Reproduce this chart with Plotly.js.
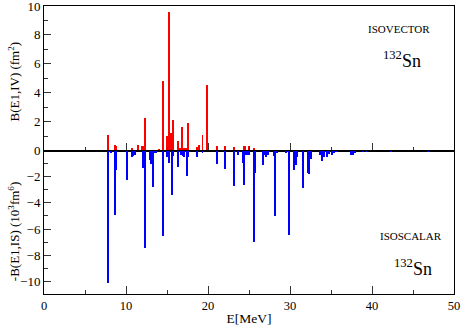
<!DOCTYPE html>
<html>
<head>
<meta charset="utf-8">
<script src="https://cdn.plot.ly/plotly-3.0.1.min.js"></script>
<style>html,body{margin:0;padding:0;background:#fff;}#chart{width:463px;height:326px;}</style>
</head>
<body>
<div id="chart"></div>
<script>
// Isovector strength B(E1,IV) (fm^2)
var ivEnergy = [7.81, 8.66, 8.82, 10.75, 11.5, 11.98, 12.15, 12.35, 14.0, 14.52, 14.97, 15.23, 15.47, 15.72, 16.37, 16.58, 16.83, 17.06, 17.3, 17.58, 18.6, 18.88, 19.33, 19.85, 21.08, 22.04, 23.18, 24.35, 24.55, 25.0, 25.6, 36.8, 37.3, 41.5];
var ivValue  = [1.05, 0.41, 0.3, 0.17, 0.4, 0.3, 0.3, 2.27, 0.1, 4.83, 0.99, 9.56, 1.24, 2.09, 0.64, 0.2, 1.66, 0.2, 0.2, 1.9, 0.23, 0.41, 1.05, 4.57, 0.34, 0.3, 0.25, 0.3, 0.3, 0.3, 0.16, 0.05, 0.06, 0.04];

// Isoscalar strength -B(E1,IS) (10^3 fm^6)
var isEnergy = [7.83, 8.17, 8.66, 8.8, 10.16, 10.73, 10.9, 11.07, 12.1, 12.35, 12.92, 13.05, 13.32, 13.5, 13.7, 14.52, 14.97, 15.23, 15.64, 15.78, 16.37, 16.75, 16.9, 17.06, 17.38, 17.55, 18.6, 19.33, 21.08, 22.02, 23.18, 23.6, 24.23, 24.42, 24.62, 24.85, 25.05, 25.57, 25.7, 26.7, 26.88, 27.1, 27.3, 28.04, 28.2, 28.38, 29.55, 29.88, 30.44, 30.72, 30.9, 31.57, 32.18, 32.36, 32.55, 33.6, 33.93, 34.1, 34.53, 34.72, 35.14, 35.4, 35.7, 37.45, 37.7, 37.9, 38.87, 39.3, 39.7, 41.9, 42.3, 44.1, 46.6, 46.8];
var isValue  = [-10.15, -0.15, -4.96, -1.45, -2.27, -0.49, -0.42, -0.3, -1.33, -7.43, -0.7, -1.0, -2.78, -0.2, -0.15, -6.54, -0.49, -0.92, -3.41, -0.4, -1.25, -0.3, -0.4, -0.5, -1.96, -0.5, -0.5, -0.2, -1.05, -1.43, -2.72, -0.3, -0.95, -2.62, -0.3, -0.35, -0.3, -6.97, -1.72, -1.12, -0.3, -0.5, -0.3, -0.4, -5.03, -0.2, -0.2, -6.47, -1.5, -1.08, -0.5, -2.83, -1.71, -1.8, -0.6, -0.3, -0.8, -0.5, -0.45, -0.25, -0.3, -0.2, -0.1, -0.3, -0.3, -0.15, -0.1, -0.1, -0.06, -0.06, -0.1, -0.05, -0.05, -0.08];

var xTicks = [0, 10, 20, 30, 40, 50];
var yTopTicks = [0, 2, 4, 6, 8, 10];
var yBottomTicks = [-10, -8, -6, -4, -2];
var yBottomMinor = [-9, -7, -5, -3, -1];

var serif = '"Liberation Serif", "Times New Roman", serif';
var yTickFont = {family: serif, size: 13, color: '#000'};
var xTickFont = {family: serif, size: 12.5, color: '#000'};

var traces = [
  {type: 'bar', x: ivEnergy, y: ivValue, width: 0.24, marker: {color: '#ff0000', line: {width: 0}}, xaxis: 'x', yaxis: 'y', hoverinfo: 'x+y'},
  {type: 'bar', x: isEnergy, y: isValue, width: 0.24, marker: {color: '#0000ff', line: {width: 0}}, xaxis: 'x2', yaxis: 'y2', hoverinfo: 'x+y'}
];

var axisCommon = {
  showline: true, mirror: true, linecolor: '#000', linewidth: 1,
  ticks: 'inside', tickcolor: '#333', tickwidth: 1,
  showgrid: false, zeroline: false,
  ticklabeloverflow: 'allow', automargin: false
};

var split = 0.4977;

var layout = {
  width: 463, height: 326,
  margin: {l: 44, r: 9, t: 6, b: 32},
  paper_bgcolor: '#fff', plot_bgcolor: '#fff',
  showlegend: false,
  bargap: 0,
  xaxis: Object.assign({}, axisCommon, {
    domain: [0, 1], range: [0, 50], anchor: 'y', tickvals: xTicks, ticklen: 8,
    showticklabels: false, tickfont: xTickFont,
    minor: {dtick: 5, tick0: 0, ticklen: 4, ticks: 'inside', tickcolor: '#333', showgrid: false}
  }),
  yaxis: Object.assign({}, axisCommon, {
    domain: [split, 1], range: [0, 10], anchor: 'x', tickvals: yTopTicks, ticklen: 7, tickfont: yTickFont,
    minor: {dtick: 1, tick0: 0, ticklen: 4, ticks: 'inside', tickcolor: '#333', showgrid: false}
  }),
  xaxis2: Object.assign({}, axisCommon, {
    domain: [0, 1], range: [0, 50], anchor: 'y2', tickvals: xTicks, ticklen: 8, tickfont: xTickFont,
    minor: {dtick: 5, tick0: 0, ticklen: 4, ticks: 'inside', tickcolor: '#333', showgrid: false},
    title: {text: 'E[MeV]', font: {family: serif, size: 13.5, color: '#000'}, standoff: 2}
  }),
  yaxis2: Object.assign({}, axisCommon, {
    domain: [0, split], range: [-10.97, 0], anchor: 'x2', tickvals: yBottomTicks, ticklen: 7, tickfont: yTickFont,
    minor: {tickvals: yBottomMinor, ticklen: 4, ticks: 'inside', tickcolor: '#333', showgrid: false}
  }),
  annotations: [
    {xref: 'paper', yref: 'paper', x: -0.073, y: 0.738, xanchor: 'center', yanchor: 'middle', textangle: -90, showarrow: false,
     text: 'B(E1,IV) (fm<sup>2</sup>)', font: {family: serif, size: 13, color: '#000'}},
    {xref: 'paper', yref: 'paper', x: -0.073, y: 0.215, xanchor: 'center', yanchor: 'middle', textangle: -90, showarrow: false,
     text: '-B(E1,IS) (10<sup>3</sup>fm<sup>6</sup>)', font: {family: serif, size: 13, color: '#000'}},
    {xref: 'paper', yref: 'paper', x: 0.865, y: 0.920, xanchor: 'center', yanchor: 'middle', showarrow: false,
     text: 'ISOVECTOR', font: {family: serif, size: 11, color: '#000'}},
    {xref: 'paper', yref: 'paper', x: 0.873, y: 0.814, xanchor: 'center', yanchor: 'middle', showarrow: false,
     text: '<sup>132</sup>Sn', font: {family: serif, size: 18, color: '#000'}},
    {xref: 'paper', yref: 'paper', x: 0.896, y: 0.202, xanchor: 'center', yanchor: 'middle', showarrow: false,
     text: 'ISOSCALAR', font: {family: serif, size: 11, color: '#000'}},
    {xref: 'paper', yref: 'paper', x: 0.901, y: 0.092, xanchor: 'center', yanchor: 'middle', showarrow: false,
     text: '<sup>132</sup>Sn', font: {family: serif, size: 18, color: '#000'}}
  ]
};

Plotly.newPlot('chart', traces, layout, {staticPlot: true, displayModeBar: false});
</script>
</body>
</html>
